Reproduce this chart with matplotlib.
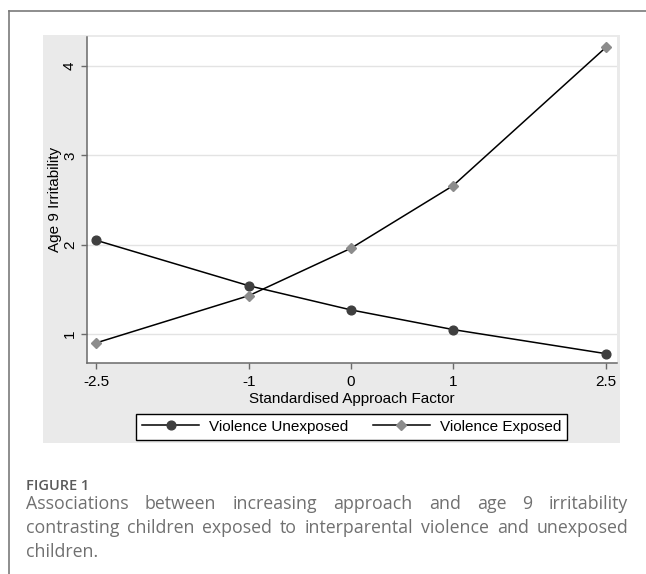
import matplotlib
matplotlib.use("Agg")
import matplotlib.pyplot as plt
from matplotlib.patches import Rectangle
from matplotlib.lines import Line2D

# values
approach = [-2.5, -1, 0, 1, 2.5]
unexposed = [2.05, 1.54, 1.27, 1.05, 0.78]
exposed = [0.90, 1.43, 1.96, 2.66, 4.21]
xticks = [-2.5, -1, 0, 1, 2.5]
xticklabels = ["-2.5", "-1", "0", "1", "2.5"]
yticks = [1, 2, 3, 4]
series_names = ["Violence Unexposed", "Violence Exposed"]

fig_title = "FIGURE 1"
caption = [
    "Associations between increasing approach and age 9 irritability",
    "contrasting children exposed to interparental violence and unexposed",
    "children.",
]

W, H = 646, 574
plt.rcParams['font.family'] = ['Liberation Sans', 'DejaVu Sans']
fig = plt.figure(figsize=(W / 100, H / 100), dpi=100)
fig.patch.set_facecolor("white")

def fx(px):
    return px / W

def fy(py):
    return 1 - py / H

# outer frame (open at right and bottom, like the cropped article page)
fig.add_artist(Line2D([fx(9.3), fx(9.3)], [fy(10.7), 0], color="#7a7a7a", lw=1.2))
fig.add_artist(Line2D([fx(9.3), 1], [fy(10.7), fy(10.7)], color="#7a7a7a", lw=1.2))

# Stata-like grey graph region
fig.add_artist(Rectangle((fx(43), fy(442.7)), fx(620) - fx(43), fy(35) - fy(442.7),
                         facecolor="#eaeaea", edgecolor="none", zorder=0))

ax = fig.add_axes([fx(86.7), fy(362.7), fx(616.7) - fx(86.7), fy(37) - fy(362.7)])
ax.set_facecolor("white")
ax.plot(approach, unexposed, color="black", lw=1.1, marker="o", ms=6.3,
        mfc="#3f3f3f", mec="#3f3f3f", label=series_names[0], zorder=3)
ax.plot(approach, exposed, color="black", lw=1.1, marker="D", ms=5.0,
        mfc="#8c8c8c", mec="#8c8c8c", label=series_names[1], zorder=3)

ax.set_xlim(-2.591, 2.605)
ax.set_ylim(0.679, 4.325)
ax.set_xticks(xticks)
ax.set_xticklabels(xticklabels)
ax.set_yticks(yticks)
ax.yaxis.grid(True, color="#e3e3e3", lw=1.0)
ax.set_axisbelow(True)
for s in ["top", "right"]:
    ax.spines[s].set_visible(False)
for s in ["left", "bottom"]:
    ax.spines[s].set_color("#6a6a6a")
    ax.spines[s].set_linewidth(1.1)
ax.tick_params(axis="both", colors="#6a6a6a", labelcolor="black", labelsize=11,
               length=4, width=1.0)
ax.tick_params(axis="x", pad=4.5)
ax.tick_params(axis="y", labelrotation=90, pad=3)
for lab in ax.get_yticklabels():
    lab.set_verticalalignment("center")

ax.set_xlabel("Standardised Approach Factor", fontsize=11)
ax.xaxis.set_label_coords(0.5, -0.09)
ax.set_ylabel("Age 9 Irritability", fontsize=11)
ax.yaxis.set_label_coords(-0.047, 0.5)

leg = fig.legend(loc="center", bbox_to_anchor=(fx(351.5), fy(426.7)), ncol=2,
                 fontsize=11, frameon=True, fancybox=False, edgecolor="black",
                 framealpha=1, handlelength=3.73, handletextpad=0.65,
                 columnspacing=1.6, borderpad=0.4, numpoints=1)
leg.get_frame().set_linewidth(1.0)

# caption below the graph
fig.text(fx(26), fy(490), fig_title, fontsize=10.5, color="#5a5a5a",
         family=["Open Sans", "DejaVu Sans"], fontweight="semibold", va="baseline")

renderer = fig.canvas.get_renderer()
left_px, right_px = 26, 628
baselines = [509.3, 533.3, 557.3]
for i, line in enumerate(caption):
    words = line.split()
    if i == len(caption) - 1:
        fig.text(fx(left_px), fy(baselines[i]), line, fontsize=12.8, color="#707070",
                 family=["Open Sans", "DejaVu Sans"], va="baseline")
        continue
    items = []
    for w in words:
        t = fig.text(0, 0, w, fontsize=12.8, color="#707070",
                     family=["Open Sans", "DejaVu Sans"], va="baseline")
        items.append((t, t.get_window_extent(renderer).width))
    total = sum(wd for _, wd in items)
    gap = (right_px - left_px - total) / (len(items) - 1)
    x = left_px
    for t, wd in items:
        t.set_position((fx(x), fy(baselines[i])))
        x += wd + gap

fig.savefig("out.png", dpi=100)
